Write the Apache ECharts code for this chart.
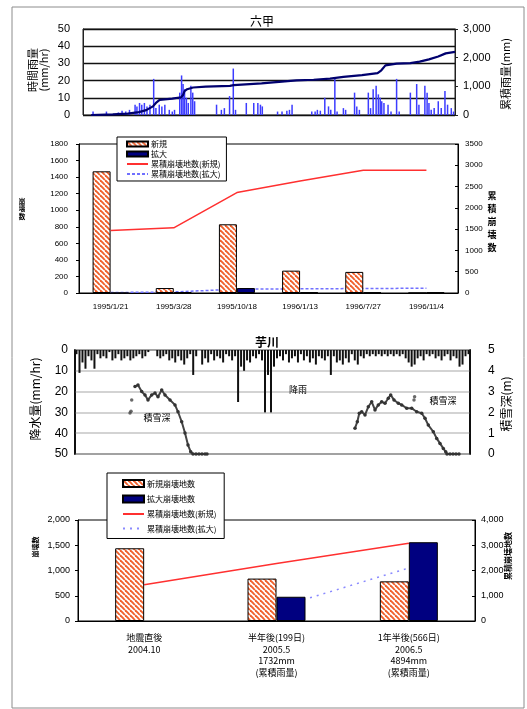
<!DOCTYPE html>
<html>
<head>
<meta charset="utf-8">
<script src="https://cdn.jsdelivr.net/npm/echarts/dist/echarts.min.js"></script>
<style>
  html, body { margin: 0; padding: 0; background: #fff; }
  #c { width: 527px; height: 709px; }
</style>
</head>
<body>
<div id="c"></div>
<script>
// ---------- 六甲: hourly rainfall (position along the record 0-100) and cumulative rainfall ----------
const rokkoRainPos = [2.7,6.3,9.5,10.5,11.5,12.5,14.0,14.5,15.2,15.8,16.5,17.2,18.0,19.0,19.6,20.5,21.2,22.0,23.2,24.0,24.6,26.0,26.5,26.9,27.3,27.8,28.3,29.0,29.5,30.0,35.9,37.2,38.0,39.4,40.4,41.0,43.9,45.9,47.0,47.7,48.2,52.3,53.5,54.8,55.5,56.2,61.5,62.4,63.0,63.8,65.0,66.0,66.6,67.7,68.3,70.0,70.6,73.0,73.6,74.3,76.7,77.3,78.0,78.8,79.4,79.9,80.3,80.9,82.0,82.8,84.3,85.0,88.0,89.7,90.3,91.9,92.5,93.0,93.6,94.4,95.5,96.3,97.3,98.0,99.0,99.6];
const rokkoRainMm = [2,2,1.5,2.5,2,3,6,5,7,6,7,5,6,21,4,6,5,6,3,2,3,13,23,18,15,10,7,17,13,8,6,3,4,11,27,3,7,7,7,6,5,2,2,2.5,3,6,2,2,3,2.5,10,5,3,21,2,4,3,13,5,3,13,4,15,17,12,10,8,7,6,2,21,2,13,18,6,17,13,7,3,4,8,4,14,6,4,2];
const rokkoCumPos = [2.2,8,12,15,17,18.8,19.6,20.6,24,26.4,26.9,27.3,28,29.6,33,39.5,40.5,48,57.4,62,66.4,70,75,79.2,80.2,81.3,84.3,88,90.5,93,95.5,97.5,100];
const rokkoCumMm = [0,20,50,100,170,300,420,530,570,620,700,830,900,960,990,1015,1040,1100,1210,1230,1270,1330,1390,1460,1560,1730,1790,1810,1860,1940,2040,2150,2200];

// ---------- 六甲: landslide counts per survey ----------
const rokkoDates = ['1995/1/21','1995/3/28','1995/10/18','1996/1/13','1996/7/27','1996/11/4'];
const rokkoNew = [1470, 60, 830, 270, 255, 0];
const rokkoExpand = [0, 12, 60, 8, 7, 7];
const rokkoCumNew = [1470, 1530, 2360, 2630, 2885, 2885];
const rokkoCumExpand = [10, 25, 90, 98, 105, 112];

// ---------- 芋川: hourly precipitation and snow depth ----------
const imoRain = [
  2,11,6,9,3,5,9,2,4,3, 4,1,5,4,2,5,4,3,5,4, 3,2,4,3,1,0,0,3,4,3,
  2,5,4,6,3,5,7,4,2,12, 3,0,7,4,6,2,5,3,4,6, 2,3,5,3,25,8,10,5,6,3,
  4,2,5,30,12,30,8,4,3,5, 2,6,4,3,6,2,5,3,6,4, 7,3,4,5,3,12,3,6,5,7,
  4,6,2,5,7,3,4,2,3,2, 3,2,3,2,3,2,3,2,3,2, 4,6,8,7,4,3,5,2,3,2,
  4,3,5,3,2,5,3,4,8,7, 3,2
];
const snowPos1 = [60,63,66.7,70,73,76.7,80,83,86.7,90,95,100,103,106.7,110,113,115.7,118,121,124,127,130,132];
const snowDepth1 = [3.24,3.32,3.0,2.84,2.6,2.84,2.93,2.75,3.08,2.84,2.6,2.36,2.03,1.55,1.01,0.43,0.11,0,0,0,0,0,0];
const snowPos2 = [280,282.3,284.3,286.7,290,293.3,296.7,300,303.3,306.7,310,313.3,315.7,319,323.3,326.7,331.7,336.7,341.7,346.7,350,353.3,358.3,361.7,365,368.3,370.7,372,375,378,381,384];
const snowDepth2 = [1.24,1.55,1.96,2.03,1.88,2.27,2.51,2.12,2.36,2.51,2.44,2.68,2.84,2.6,2.44,2.36,2.2,2.2,2.03,1.96,1.72,1.39,1.07,0.75,0.51,0.27,0.11,0,0,0,0,0];
const snowLonePos = [56.7, 55, 56, 339, 339.6];
const snowLoneDepth = [2.6, 1.97, 2.05, 2.6, 2.75];

// ---------- 芋川: landslide counts per survey ----------
const imoCats = ['地震直後\n2004.10', '半年後(199日)\n2005.5\n1732mm\n(累積雨量)', '1年半後(566日)\n2006.5\n4894mm\n(累積雨量)'];
const imoNew = [1440, 840, 785];
const imoExpand = [null, 480, 1560];
const imoCumNew = [1440, 2280, 3080];
const imoCumExpand = [null, 520, 2100];

// ---------- helpers ----------
const zip = (a, b) => a.map((v, i) => [v, b[i]]);
const comma = v => Number(v).toLocaleString('en-US');
const plain = v => String(v);
const JP = "'Noto Sans CJK JP', sans-serif";
const NUM = "'Liberation Sans', 'Noto Sans CJK JP', sans-serif";

// diagonal orange hatching used for the 新規 bars
function hatchCanvas() {
  const s = 5;
  const c = document.createElement('canvas');
  c.width = s; c.height = s;
  const g = c.getContext('2d');
  g.fillStyle = '#ffffff';
  g.fillRect(0, 0, s, s);
  g.strokeStyle = '#f0602c';
  g.lineWidth = 1.9;
  for (const k of [-s, 0, s]) {
    g.beginPath(); g.moveTo(k, 0); g.lineTo(k + s, s); g.stroke();
  }
  return c;
}
const hatch = { image: hatchCanvas(), repeat: 'repeat' };
const NAVY = '#000080';

function txt(x, y, text, size, opts) {
  return Object.assign({
    type: 'text', x: x, y: y, z: 50,
    style: { text: text, fill: '#000', font: (opts && opts.bold ? 'bold ' : '') + size + 'px ' + JP,
             align: 'center', verticalAlign: 'middle', lineHeight: (opts && opts.lh) || size + 2 }
  }, opts && opts.rot ? { rotation: opts.rot } : {});
}

// legend entries: square swatches for bars, plain line samples for lines
const barEntry = name => ({ name: name, icon: 'rect' });
const lineEntry = name => ({ name: name, itemStyle: { opacity: 0 } });

const chart = echarts.init(document.getElementById('c'));

const option = {
  animation: false,
  backgroundColor: '#fff',
  textStyle: { fontFamily: JP },
  grid: [
    { left: 83, top: 29, width: 372, height: 86, show: true, borderColor: '#222', borderWidth: 1, outerBoundsMode: 'none', containLabel: false },
    { left: 79, top: 144, width: 379, height: 149, show: true, borderColor: '#000', borderWidth: 1, outerBoundsMode: 'none', containLabel: false },
    { left: 75, top: 350, width: 395, height: 104, show: true, borderColor: '#000', borderWidth: 1.5, outerBoundsMode: 'none', containLabel: false },
    { left: 78, top: 520, width: 397, height: 101, show: true, borderColor: '#000', borderWidth: 1, outerBoundsMode: 'none', containLabel: false }
  ],
  xAxis: [
    { gridIndex: 0, type: 'value', min: 0, max: 100, show: false },
    { gridIndex: 1, type: 'category', data: rokkoDates,
      axisLine: { lineStyle: { color: '#000' } },
      axisTick: { inside: true, length: 3, lineStyle: { color: '#000' } },
      axisLabel: { interval: 0, margin: 10, color: '#000', fontSize: 8, fontFamily: NUM } },
    { gridIndex: 2, type: 'value', min: 0, max: 395, show: false },
    { gridIndex: 2, type: 'category', data: imoRain.map((v, i) => i), show: false, boundaryGap: true },
    { gridIndex: 3, type: 'category', data: imoCats,
      axisLine: { lineStyle: { color: '#000' } },
      axisTick: { inside: true, length: 4, lineStyle: { color: '#000' } },
      axisLabel: { interval: 0, margin: 11, color: '#000', fontSize: 9, lineHeight: 11.5, fontFamily: JP } }
  ],
  yAxis: [
    // 0: 六甲 hourly rainfall
    { gridIndex: 0, type: 'value', min: 0, max: 50, interval: 10,
      axisLine: { show: true, lineStyle: { color: '#222' } }, axisTick: { show: false },
      splitLine: { lineStyle: { color: '#111', width: 1.3 } },
      axisLabel: { margin: 13, color: '#000', fontSize: 11, fontFamily: NUM, formatter: plain } },
    // 1: 六甲 cumulative rainfall
    { gridIndex: 0, type: 'value', position: 'right', min: 0, max: 3000, interval: 1000,
      axisLine: { show: true, lineStyle: { color: '#222' } },
      axisTick: { show: true, length: 3, lineStyle: { color: '#222' } },
      splitLine: { show: false },
      axisLabel: { margin: 8, color: '#000', fontSize: 11, fontFamily: NUM, formatter: comma } },
    // 2: 崩壊数
    { gridIndex: 1, type: 'value', min: 0, max: 1800, interval: 200,
      axisLine: { show: true, lineStyle: { color: '#000' } },
      axisTick: { show: true, length: 3, lineStyle: { color: '#000' } },
      splitLine: { show: false },
      axisLabel: { margin: 11, color: '#000', fontSize: 8, fontFamily: NUM, formatter: plain } },
    // 3: 累積崩壊数
    { gridIndex: 1, type: 'value', position: 'right', min: 0, max: 3500, interval: 500,
      axisLine: { show: true, lineStyle: { color: '#000' } },
      axisTick: { show: true, inside: true, length: 3, lineStyle: { color: '#000' } },
      splitLine: { show: false },
      axisLabel: { margin: 7, color: '#000', fontSize: 8, fontFamily: NUM, formatter: plain } },
    // 4: 芋川 precipitation, hanging from the top
    { gridIndex: 2, type: 'value', inverse: true, min: 0, max: 50, interval: 10,
      axisLine: { show: true, lineStyle: { color: '#000', width: 1.5 } }, axisTick: { show: false },
      splitLine: { lineStyle: { color: '#c4c4c4', width: 1.6 } },
      axisLabel: { margin: 7, color: '#000', fontSize: 12, fontFamily: NUM, formatter: plain } },
    // 5: 芋川 snow depth
    { gridIndex: 2, type: 'value', position: 'right', min: 0, max: 5, interval: 1,
      axisLine: { show: true, lineStyle: { color: '#000', width: 1.5 } }, axisTick: { show: false },
      splitLine: { show: false },
      axisLabel: { margin: 18, color: '#000', fontSize: 12, fontFamily: NUM, formatter: plain } },
    // 6: 芋川 崩壊数
    { gridIndex: 3, type: 'value', min: 0, max: 2000, interval: 500,
      axisLine: { show: true, lineStyle: { color: '#000' } },
      axisTick: { show: true, length: 3, lineStyle: { color: '#000' } },
      splitLine: { show: false },
      axisLabel: { margin: 8, color: '#000', fontSize: 9, fontFamily: NUM, formatter: comma } },
    // 7: 芋川 累積崩壊地数
    { gridIndex: 3, type: 'value', position: 'right', min: 0, max: 4000, interval: 1000,
      axisLine: { show: true, lineStyle: { color: '#000' } },
      axisTick: { show: true, inside: true, length: 3, lineStyle: { color: '#000' } },
      splitLine: { show: false },
      axisLabel: { margin: 6, color: '#000', fontSize: 9, fontFamily: NUM, formatter: comma } }
  ],
  legend: [
    { left: 117, top: 137, orient: 'vertical', itemWidth: 21, itemHeight: 5, itemGap: 2,
      padding: [3, 6, 3, 9], borderColor: '#000', borderWidth: 1, backgroundColor: '#fff',
      selectedMode: false, textStyle: { fontSize: 8, color: '#000', fontFamily: JP, padding: [0, 0, 0, -2] },
      data: [ barEntry('新規'), barEntry('拡大'), lineEntry('累積崩壊地数(新規)'), lineEntry('累積崩壊地数(拡大)') ] },
    { left: 107, top: 473, orient: 'vertical', itemWidth: 21, itemHeight: 7, itemGap: 6.5,
      padding: [6, 6, 6, 15], borderColor: '#000', borderWidth: 1, backgroundColor: '#fff',
      selectedMode: false, textStyle: { fontSize: 8, color: '#000', fontFamily: JP, padding: [0, 0, 0, -2] },
      data: [ barEntry('新規崩壊地数'), barEntry('拡大崩壊地数'), lineEntry('累積崩壊地数(新規) '), lineEntry('累積崩壊地数(拡大) ') ] }
  ],
  series: [
    // 六甲 rainfall
    { type: 'bar', xAxisIndex: 0, yAxisIndex: 0, barWidth: 1.5, itemStyle: { color: '#3c3cff' },
      data: zip(rokkoRainPos, rokkoRainMm), z: 2 },
    { type: 'line', xAxisIndex: 0, yAxisIndex: 1, symbol: 'none', lineStyle: { color: '#00006e', width: 2.2 },
      data: zip(rokkoCumPos, rokkoCumMm), z: 3 },

    // 六甲 landslide counts
    { name: '新規', type: 'bar', xAxisIndex: 1, yAxisIndex: 2, barWidth: 18, barGap: '0%',
      itemStyle: { color: hatch, borderColor: '#000', borderWidth: 1 }, data: rokkoNew, z: 3 },
    { name: '拡大', type: 'bar', xAxisIndex: 1, yAxisIndex: 2, barWidth: 18, barGap: '0%',
      itemStyle: { color: NAVY, borderColor: '#000', borderWidth: 1 }, data: rokkoExpand, z: 3 },
    { name: '累積崩壊地数(新規)', type: 'line', xAxisIndex: 1, yAxisIndex: 3, symbol: 'none',
      lineStyle: { color: '#ff3030', width: 1.5 }, itemStyle: { color: '#ff3030' }, data: rokkoCumNew, z: 4 },
    { name: '累積崩壊地数(拡大)', type: 'line', xAxisIndex: 1, yAxisIndex: 3, symbol: 'none',
      lineStyle: { color: '#7070ff', width: 1.5, type: [3, 2] }, itemStyle: { color: '#7070ff' }, data: rokkoCumExpand, z: 2 },

    // 芋川 precipitation and snow
    { type: 'bar', xAxisIndex: 3, yAxisIndex: 4, barWidth: 2, itemStyle: { color: '#111' }, data: imoRain, z: 2 },
    { type: 'line', xAxisIndex: 2, yAxisIndex: 5, symbol: 'circle', symbolSize: 3.5,
      lineStyle: { color: '#444', width: 2 }, itemStyle: { color: '#333' }, data: zip(snowPos1, snowDepth1), z: 3 },
    { type: 'line', xAxisIndex: 2, yAxisIndex: 5, symbol: 'circle', symbolSize: 3.5,
      lineStyle: { color: '#444', width: 2 }, itemStyle: { color: '#333' }, data: zip(snowPos2, snowDepth2), z: 3 },
    { type: 'scatter', xAxisIndex: 2, yAxisIndex: 5, symbolSize: 3.5, itemStyle: { color: '#444' },
      data: zip(snowLonePos, snowLoneDepth), z: 3 },

    // 芋川 landslide counts
    { name: '新規崩壊地数', type: 'bar', xAxisIndex: 4, yAxisIndex: 6, barWidth: 29, barGap: '0%',
      itemStyle: { color: hatch, borderColor: '#000', borderWidth: 1 }, data: imoNew, z: 3 },
    { name: '拡大崩壊地数', type: 'bar', xAxisIndex: 4, yAxisIndex: 6, barWidth: 29, barGap: '0%',
      itemStyle: { color: NAVY, borderColor: '#000', borderWidth: 1 }, data: imoExpand, z: 3 },
    { name: '累積崩壊地数(新規) ', type: 'line', xAxisIndex: 4, yAxisIndex: 7, symbol: 'none',
      lineStyle: { color: '#ff3030', width: 1.5 }, itemStyle: { color: '#ff3030' }, data: imoCumNew, z: 2 },
    { name: '累積崩壊地数(拡大) ', type: 'line', xAxisIndex: 4, yAxisIndex: 7, symbol: 'none', connectNulls: false,
      lineStyle: { color: '#8a8aff', width: 1.5, type: [2, 5] }, itemStyle: { color: '#8a8aff' }, data: imoCumExpand, z: 2 }
  ],
  graphic: [
    // outer frame
    { type: 'rect', z: 0, shape: { x: 12, y: 7, width: 512, height: 701 }, style: { fill: 'none', stroke: '#8c8c8c', lineWidth: 1 } },

    // 六甲 rainfall panel
    txt(262, 21, '六甲', 12),
    txt(38, 70, '時間雨量\n(mm/hr)', 11, { rot: Math.PI / 2, lh: 11 }),
    txt(506, 74, '累積雨量(mm)', 11, { rot: Math.PI / 2 }),

    // 六甲 count panel axis names
    txt(22, 209, '崩\n壊\n数', 6.5, { bold: true, lh: 7.5 }),
    txt(492, 222, '累\n積\n崩\n壊\n数', 9, { bold: true, lh: 13 }),

    // 芋川 precipitation / snow panel
    txt(267, 342, '芋川', 12, { bold: true }),
    txt(35, 399, '降水量(mm/hr)', 12, { rot: Math.PI / 2 }),
    txt(506, 404, '積雪深(m)', 12, { rot: Math.PI / 2 }),
    txt(298, 390, '降雨', 9),
    txt(157, 418, '積雪深', 9),
    txt(443, 401, '積雪深', 9),

    // 芋川 count panel axis names
    txt(35, 547, '崩壊数', 7, { rot: Math.PI / 2, bold: true }),
    txt(508, 556, '累積崩壊地数', 8, { rot: Math.PI / 2, bold: true })
  ]
};

chart.setOption(option);
</script>
</body>
</html>
